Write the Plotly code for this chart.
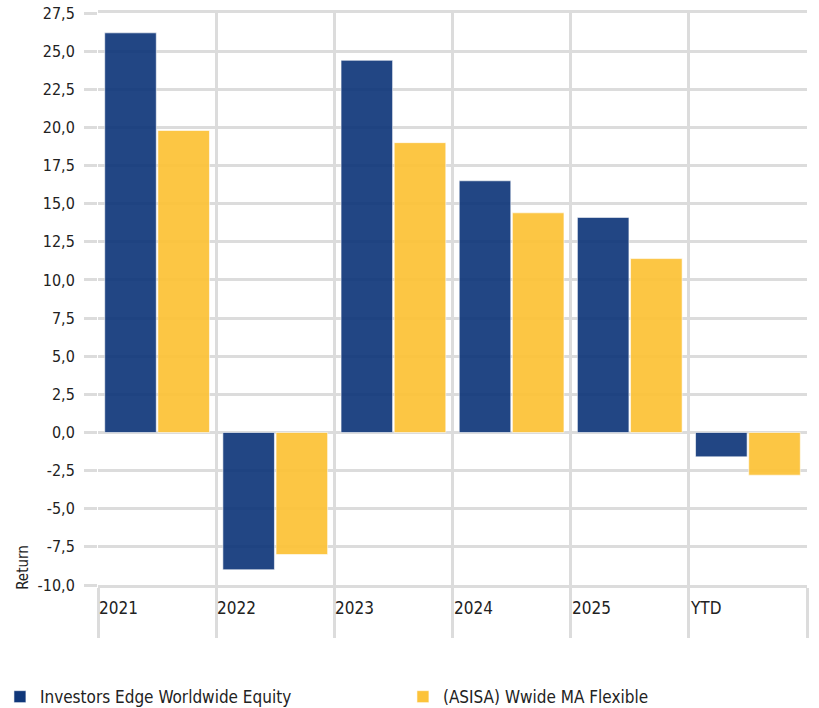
import plotly.graph_objects as go

categories = ["2021", "2022", "2023", "2024", "2025", "YTD"]
fund_name = "Investors Edge Worldwide Equity"
peer_name = "(ASISA) Wwide MA Flexible"
fund_values = [26.2, -9.0, 24.4, 16.5, 14.1, -1.6]
peer_values = [19.8, -8.0, 19.0, 14.4, 11.4, -2.8]
y_ticks = [-10, -7.5, -5, -2.5, 0, 2.5, 5, 7.5, 10, 12.5, 15, 17.5, 20, 22.5, 25, 27.5]
y_tick_labels = [f"{v:.1f}".replace(".", ",") for v in y_ticks]

FONT = "Liberation Sans Narrow, DejaVu Sans Condensed, Arial Narrow, sans-serif"
GRID = "#dcdcdc"

fig = go.Figure()
fig.add_trace(go.Bar(x=categories, y=fund_values, name=fund_name,
                     marker=dict(color="#10377a", opacity=0.92,
                                 line=dict(color="rgba(255,255,255,0.6)", width=1))))
fig.add_trace(go.Bar(x=categories, y=peer_values, name=peer_name,
                     marker=dict(color="#fcc33a", opacity=0.95,
                                 line=dict(color="rgba(255,255,255,0.6)", width=1))))

for i, c in enumerate(categories):
    fig.add_annotation(x=i - 0.5, y=-0.040, xref="x", yref="paper", text=c,
                       showarrow=False, xanchor="left", yanchor="middle", xshift=-1,
                       font=dict(family=FONT, size=17, color="#222"))

fig.add_annotation(x=-0.106, y=0.0315, xref="paper", yref="paper", text="Return",
                   textangle=-90, showarrow=False, xanchor="center", yanchor="middle",
                   font=dict(family=FONT, size=15, color="#222"))

fig.update_layout(
    width=819, height=708,
    margin=dict(l=98, r=12, t=13, b=123, autoexpand=False),
    paper_bgcolor="white", plot_bgcolor="white",
    barmode="group", bargap=0.10, bargroupgap=0.03,
    font=dict(family=FONT, size=16, color="#222"),
    showlegend=True,
    legend=dict(orientation="h", x=-0.1383, xanchor="left",
                y=-0.196, yanchor="middle", entrywidth=358, entrywidthmode="pixels",
                font=dict(family=FONT, size=17, color="#222"),
                traceorder="normal"),
    xaxis=dict(type="category", showticklabels=False, tickson="boundaries",
               ticks="outside", ticklen=50, tickcolor=GRID, tickwidth=3,
               showgrid=True, gridcolor=GRID, gridwidth=3,
               showline=True, linecolor=GRID, linewidth=3, mirror=True,
               range=[-0.5, 5.5]),
    yaxis=dict(range=[-10, 27.5], tickvals=y_ticks, ticktext=y_tick_labels,
               ticks="outside", ticklen=13, tickcolor=GRID, tickwidth=3,
               ticklabelstandoff=6,
               showgrid=True, gridcolor=GRID, gridwidth=3, zeroline=False,
               showline=False, tickfont=dict(family=FONT, size=16, color="#222")),
)

fig.write_html("out.html", config={"displayModeBar": False},
               post_script="document.body.style.margin='0';")
